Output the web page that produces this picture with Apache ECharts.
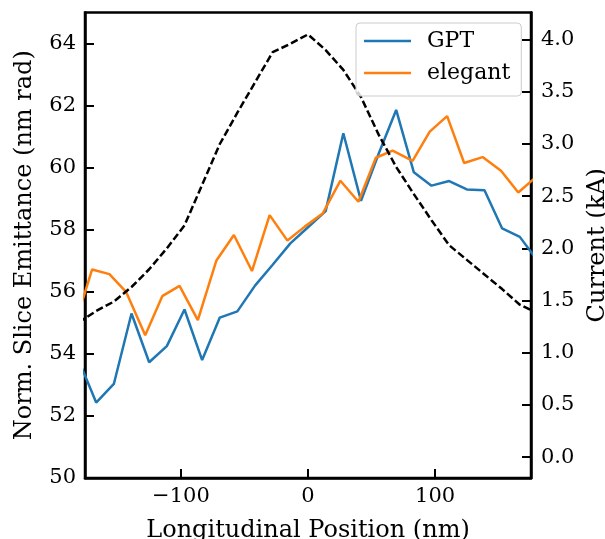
<!DOCTYPE html>
<html>
<head>
<meta charset="utf-8">
<script src="https://cdn.jsdelivr.net/npm/echarts@6/dist/echarts.min.js"></script>
<style>
  html, body { margin: 0; padding: 0; background: #fff; }
  #chart { width: 605px; height: 539px; }
</style>
</head>
<body>
<div id="chart"></div>
<script>
// slice positions (nm) and values
const gptX = [-180.6, -166.7, -152.8, -138.9, -125.0, -111.1, -97.2, -83.3, -69.4, -55.6, -41.7, -27.8, -13.9, 0,
              13.9, 27.8, 41.7, 55.6, 69.4, 83.3, 97.2, 111.1, 125.0, 138.9, 152.8, 166.7, 180.6];
const gptY = [53.8, 52.43, 53.03, 55.3, 53.73, 54.25, 55.43, 53.8, 55.17, 55.37, 56.2, 56.87, 57.56, 58.08,
              58.6, 61.11, 58.93, 60.45, 61.86, 59.85, 59.42, 59.57, 59.3, 59.27, 58.04, 57.77, 57.0];
const elegantX = [-183.0, -169.9, -156.3, -143.2, -128.1, -114.7, -101.1, -86.7, -72.2, -58.3, -44.1, -30.2, -16.2, -2.5,
                  11.5, 25.5, 39.7, 53.4, 66.6, 82.3, 95.8, 109.5, 122.9, 137.4, 151.9, 165.5, 179.4];
const elegantY = [55.0, 56.72, 56.57, 56.0, 54.6, 55.86, 56.19, 55.09, 57.0, 57.83, 56.67, 58.47, 57.65, 58.1,
                  58.52, 59.58, 58.9, 60.32, 60.55, 60.22, 61.16, 61.66, 60.15, 60.34, 59.9, 59.2, 59.7];
const currentY = [1.29, 1.40, 1.49, 1.63, 1.80, 2.00, 2.22, 2.61, 3.0, 3.30, 3.59, 3.88, 3.96, 4.05,
                  3.90, 3.71, 3.45, 3.09, 2.78, 2.52, 2.27, 2.03, 1.89, 1.75, 1.61, 1.46, 1.38];
const xTicks = [-100, 0, 100];
const leftTicks = [50, 52, 54, 56, 58, 60, 62, 64];
const rightTicks = [0, 0.5, 1, 1.5, 2, 2.5, 3, 3.5, 4];

const font = 'DejaVu Serif';
const tickFs = 21, titleFs = 24, legendFs = 22;
const pairs = (xs, ys) => xs.map((x, i) => [x, ys[i]]);
const minus = v => (v < 0 ? '\u2212' + (-v) : '' + v);

const chart = echarts.init(document.getElementById('chart'));
chart.setOption({
  animation: false,
  textStyle: { fontFamily: font },
  grid: { left: 85, right: 74, top: 12.5, bottom: 61, outerBoundsMode: 'none', containLabel: false,
          show: true, borderColor: '#000', borderWidth: 2.5, backgroundColor: 'transparent' },
  legend: {
    orient: 'vertical', left: 356, top: 23,
    data: ['GPT', 'elegant'],
    icon: 'rect', itemWidth: 47, itemHeight: 2.5, itemGap: 10,
    padding: [7, 11, 12, 8],
    backgroundColor: 'rgba(255,255,255,0.8)', borderColor: '#cccccc', borderWidth: 1, borderRadius: 4,
    textStyle: { fontFamily: font, fontSize: legendFs, color: '#000', lineHeight: 22, padding: [0, 0, 0, 11] }
  },
  xAxis: {
    type: 'value', min: -175.5, max: 175.5,
    name: 'Longitudinal Position (nm)', nameLocation: 'middle', nameGap: 41,
    nameTextStyle: { fontFamily: font, fontSize: titleFs, color: '#000' },
    axisLine: { onZero: false, lineStyle: { color: '#000', width: 2.5 } },
    axisTick: { inside: true, length: 9, lineStyle: { color: '#000', width: 2 }, customValues: xTicks },
    axisLabel: { fontFamily: font, fontSize: tickFs, color: '#000', margin: 8, customValues: xTicks, formatter: minus },
    splitLine: { show: false }
  },
  yAxis: [{
    type: 'value', min: 50, max: 65, position: 'left',
    name: 'Norm. Slice Emittance (nm rad)', nameLocation: 'middle', nameGap: 48, nameRotate: 90,
    nameTextStyle: { fontFamily: font, fontSize: titleFs, color: '#000' },
    axisLine: { show: true, onZero: false, lineStyle: { color: '#000', width: 2.5 } },
    axisTick: { show: true, inside: true, length: 9, lineStyle: { color: '#000', width: 2 }, customValues: leftTicks },
    axisLabel: { fontFamily: font, fontSize: tickFs, color: '#000', margin: 9, customValues: leftTicks },
    splitLine: { show: false }
  }, {
    type: 'value', min: -0.2, max: 4.26, position: 'right',
    name: 'Current (kA)', nameLocation: 'middle', nameGap: 51, nameRotate: 90,
    nameTextStyle: { fontFamily: font, fontSize: titleFs, color: '#000' },
    axisLine: { show: true, onZero: false, lineStyle: { color: '#000', width: 2.5 } },
    axisTick: { show: true, inside: true, length: 9, lineStyle: { color: '#000', width: 2 }, customValues: rightTicks },
    axisLabel: { fontFamily: font, fontSize: tickFs, color: '#000', margin: 10, customValues: rightTicks, formatter: v => v.toFixed(1) },
    splitLine: { show: false }
  }],
  series: [{
    name: 'GPT', type: 'line', yAxisIndex: 0, data: pairs(gptX, gptY),
    showSymbol: false, symbol: 'none', clip: true,
    lineStyle: { color: '#1f77b4', width: 2.5 }, itemStyle: { color: '#1f77b4' }
  }, {
    name: 'elegant', type: 'line', yAxisIndex: 0, data: pairs(elegantX, elegantY),
    showSymbol: false, symbol: 'none', clip: true,
    lineStyle: { color: '#ff7f0e', width: 2.5 }, itemStyle: { color: '#ff7f0e' }
  }, {
    name: 'current', type: 'line', yAxisIndex: 1, data: pairs(gptX, currentY),
    showSymbol: false, symbol: 'none', clip: true,
    lineStyle: { color: '#000', width: 2.5, type: [7.4, 3.2] }, itemStyle: { color: '#000' }
  }]
});
</script>
</body>
</html>
